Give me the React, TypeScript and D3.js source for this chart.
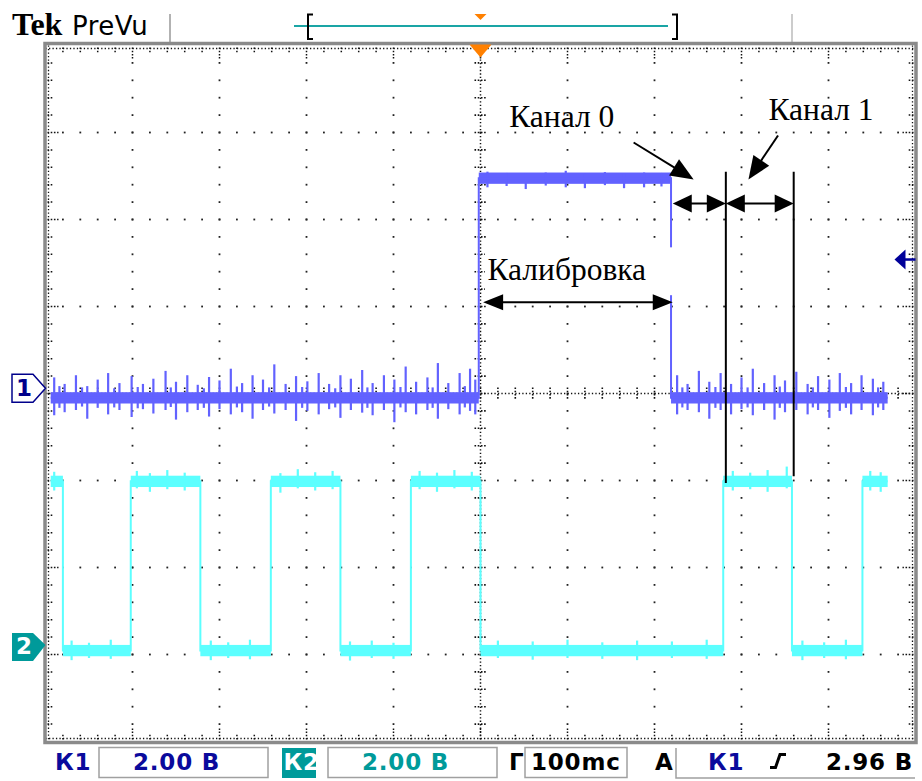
import React from 'react';
import * as d3 from 'd3';

const W = 922;
const H = 781;

// ---- scope settings ----
const timeDomain = [-500, 500]; // ms (100 ms/div, 10 div)
const divDomain = [-4, 4]; // 8 vertical divisions
const voltsPerDiv = 2;
const minorPerDiv = 5;

// ---- channel data ----
const ch1Offset = 0.06; // div (ground marker position)
const ch2Offset = -2.89;
const ch1Levels = [-0.22, 4.83]; // V: low, high
const ch2Levels = [-0.13, 3.76];
const traceStart = -494;
const traceEnd = 468;
const ch1StartState = 0;
const ch1Edges = [-2, 219];
const ch2StartState = 1;
const ch2Edges = [-480, -402, -322, -241, -161, -80, 0, 279, 358, 439];
const triggerLevel = 2.96; // V on channel 1

// noise spikes: [t ms, top V, bottom V]
const ch1Spikes: number[][] = [
  [-490, 0.25, -0.62], [-484, 0.05, -0.45], [-478, 0.1, -0.55], [-465, 0.3, -0.5], [-458, 0.02, -0.42], [-452, 0.05, -0.7],
  [-440, 0.2, -0.45], [-428, 0.35, -0.6], [-421, 0.0, -0.44], [-415, 0.12, -0.5], [-401, 0.28, -0.66], [-394, 0.03, -0.46],
  [-388, 0.1, -0.48], [-376, 0.22, -0.58], [-362, 0.4, -0.5], [-356, 0.02, -0.43], [-350, 0.15, -0.72], [-337, 0.3, -0.55],
  [-325, 0.08, -0.5], [-318, 0.0, -0.45], [-312, 0.26, -0.65], [-300, 0.18, -0.48], [-287, 0.45, -0.6], [-280, 0.04, -0.44],
  [-274, 0.12, -0.55], [-262, 0.3, -0.7], [-250, 0.2, -0.5], [-243, 0.02, -0.42], [-237, 0.55, -0.58], [-224, 0.1, -0.5],
  [-212, 0.28, -0.75], [-205, 0.03, -0.45], [-199, 0.16, -0.52], [-186, 0.35, -0.6], [-174, 0.1, -0.48], [-167, 0.0, -0.44],
  [-161, 0.3, -0.68], [-149, 0.22, -0.5], [-136, 0.42, -0.56], [-130, 0.02, -0.45], [-124, 0.12, -0.62], [-111, 0.3, -0.5],
  [-99, 0.2, -0.78], [-92, 0.03, -0.44], [-86, 0.5, -0.55], [-74, 0.15, -0.6], [-61, 0.25, -0.5], [-55, 0.02, -0.45],
  [-49, 0.58, -0.7], [-37, 0.12, -0.48], [-24, 0.35, -0.6], [-18, 0.05, -0.44], [-12, 0.45, -0.52], [-6, 0.2, -0.6],
  [226, 0.3, -0.6], [232, 0.02, -0.44], [238, 0.1, -0.5], [251, 0.4, -0.55], [263, 0.15, -0.7], [270, 0.03, -0.45],
  [276, 0.35, -0.5], [288, 0.1, -0.6], [300, 0.25, -0.48], [307, 0.02, -0.44], [313, 0.45, -0.62], [326, 0.12, -0.5],
  [338, 0.3, -0.72], [344, 0.04, -0.45], [350, 0.18, -0.55], [363, 0.38, -0.5], [376, 0.1, -0.6], [382, 0.02, -0.44],
  [388, 0.28, -0.5], [401, 0.2, -0.68], [413, 0.35, -0.52], [420, 0.03, -0.45], [426, 0.12, -0.6], [438, 0.3, -0.5],
  [451, 0.22, -0.62], [457, 0.02, -0.44], [463, 0.15, -0.5],
  [8, 4.98, 4.62], [30, 4.95, 4.65], [52, 4.93, 4.58], [75, 4.96, 4.66], [98, 5.0, 4.62],
  [120, 4.94, 4.6], [143, 4.97, 4.67], [165, 4.93, 4.6], [188, 4.96, 4.62], [208, 4.95, 4.64],
];
const ch2Spikes: number[][] = [
  [-490, 3.98, 3.55], [-395, 4.0, 3.6], [-380, 3.95, 3.52], [-360, 4.02, 3.58], [-340, 3.96, 3.55],
  [-230, 3.95, 3.5], [-210, 4.04, 3.6], [-190, 3.97, 3.55], [-170, 4.0, 3.58],
  [-70, 4.0, 3.58], [-50, 3.96, 3.52], [-30, 4.02, 3.6], [-10, 3.98, 3.55],
  [290, 4.0, 3.55], [310, 3.96, 3.58], [330, 4.02, 3.52], [352, 4.1, 3.6], [448, 4.0, 3.55], [460, 3.97, 3.52],
  [-470, 0.1, -0.35], [-450, 0.05, -0.3], [-425, 0.12, -0.32], [-310, 0.1, -0.35], [-290, 0.06, -0.3], [-265, 0.12, -0.33],
  [-150, 0.08, -0.36], [-125, 0.1, -0.3], [-100, 0.05, -0.32], [20, 0.1, -0.3], [60, 0.08, -0.34], [100, 0.12, -0.3],
  [140, 0.06, -0.32], [180, 0.1, -0.35], [220, 0.08, -0.3], [260, 0.12, -0.32], [370, 0.1, -0.35], [395, 0.06, -0.3],
  [420, 0.12, -0.33],
];
const noiseBand = 0.13; // V half-width of dense noise

// ---- annotations (t in ms, y in div) ----
const calibArrow = { t0: 3, t1: 221, div: 1.05 };
const calibMask = { t0: 5, t1: 223, div0: 1.13, div1: 1.68 };
const labels = [
  { text: 'Калибровка', t: 8, div: 1.3 },
  { text: 'Канал 0', t: 33, div: 3.06 },
  { text: 'Канал 1', t: 331, div: 3.14 },
];
const pointers = [
  { from: [176, 2.885], to: [245, 2.46] },
  { from: [342, 2.966], to: [308, 2.46] },
];
const spanDiv = 2.184;
const spanArrows = [[221, 282], [282, 360]];
const cursorLines = [[282, 2.55, -1.03], [360, 2.55, -0.95]];

// ---- status bar ----
const statusCh1 = ['К1', '2.00 В'];
const statusCh2 = ['К2', '2.00 В'];
const statusTime = ['Г', '100mc'];
const statusTrig = ['A', 'К1', '2.96 В'];

const BLUE = '#6262ff';
const CYAN = '#5cffff';
const TEAL = '#009a9a';
const DKBLUE = '#0a0a9c';

function segments(startState: number, edges: number[]) {
  const out: { t0: number; t1: number; s: number }[] = [];
  let s = startState;
  let t0 = traceStart;
  for (const e of edges) {
    out.push({ t0, t1: e, s });
    t0 = e;
    s = 1 - s;
  }
  out.push({ t0, t1: traceEnd, s });
  return out;
}

function arrowHead(tip: number[], from: number[], len = 20, hw = 8) {
  const dx = tip[0] - from[0];
  const dy = tip[1] - from[1];
  const L = Math.hypot(dx, dy);
  const ux = dx / L;
  const uy = dy / L;
  const bx = tip[0] - ux * len;
  const by = tip[1] - uy * len;
  return `M${tip[0]},${tip[1]}L${bx - uy * hw},${by + ux * hw}L${bx + uy * hw},${by - ux * hw}Z`;
}

export default function App() {
  const x = d3.scaleLinear().domain(timeDomain).range([45.5, 915.5]);
  const y = d3.scaleLinear().domain(divDomain).range([741.5, 45.5]);
  const y1 = (v: number) => y(ch1Offset + v / voltsPerDiv);
  const y2 = (v: number) => y(ch2Offset + v / voltsPerDiv);
  const left = x(timeDomain[0]);
  const right = x(timeDomain[1]);
  const top = y(divDomain[1]);
  const bottom = y(divDomain[0]);
  const cx = x(0);
  const cy = y(0);
  const divW = (right - left) / 10;
  const divH = (bottom - top) / 8;
  const nX = 10 * minorPerDiv;
  const nY = 8 * minorPerDiv;

  const line = d3.line<number[]>().x((d) => d[0]).y((d) => d[1]);

  const tracePath = (startState: number, edges: number[], levels: number[], yy: (v: number) => number) => {
    const segs = segments(startState, edges);
    const pts: number[][] = [];
    segs.forEach((sg) => {
      pts.push([x(sg.t0), yy(levels[sg.s])]);
      pts.push([x(sg.t1), yy(levels[sg.s])]);
    });
    return { d: line(pts) as string, segs };
  };
  const tr1 = tracePath(ch1StartState, ch1Edges, ch1Levels, y1);
  const tr2 = tracePath(ch2StartState, ch2Edges, ch2Levels, y2);

  // grid
  const gridDots: JSX.Element[] = [];
  for (let i = 1; i < 10; i++) {
    if (i === 5) continue;
    const gx = left + i * divW;
    for (let j = 1; j < nY; j++) {
      gridDots.push(<rect key={`v${i}-${j}`} x={gx - 0.9} y={top + (j * divH) / minorPerDiv - 0.9} width={1.8} height={1.8} fill="#222" />);
    }
  }
  for (let k = 1; k < 8; k++) {
    if (k === 4) continue;
    const gy = top + k * divH;
    for (let j = 1; j < nX; j++) {
      gridDots.push(<rect key={`h${k}-${j}`} x={left + (j * divW) / minorPerDiv - 0.9} y={gy - 0.9} width={1.8} height={1.8} fill="#222" />);
    }
  }
  const fine = `1.3 ${(divW / 25 - 1.3).toFixed(2)}`;
  const fineV = `1.3 ${(divH / 25 - 1.3).toFixed(2)}`;
  const axisTicks: JSX.Element[] = [];
  for (let j = 1; j < nX; j++) {
    const tx = left + (j * divW) / minorPerDiv;
    axisTicks.push(<line key={`ax${j}`} x1={tx} x2={tx} y1={cy - 6} y2={cy + 6} stroke="#111" strokeWidth={1.6} strokeDasharray="1.6 1.6" />);
    const major = j % minorPerDiv === 0;
    const L = major ? 11 : 6;
    axisTicks.push(<line key={`tt${j}`} x1={tx} x2={tx} y1={top + 2} y2={top + 2 + L} stroke="#111" strokeWidth={1.5} strokeDasharray="1.6 1.6" />);
    axisTicks.push(<line key={`bt${j}`} x1={tx} x2={tx} y1={bottom - 2} y2={bottom - 2 - L} stroke="#111" strokeWidth={1.5} strokeDasharray="1.6 1.6" />);
  }
  for (let j = 1; j < nY; j++) {
    const ty = top + (j * divH) / minorPerDiv;
    axisTicks.push(<line key={`ay${j}`} x1={cx - 6} x2={cx + 6} y1={ty} y2={ty} stroke="#111" strokeWidth={1.6} strokeDasharray="1.6 1.6" />);
    const major = j % minorPerDiv === 0;
    const L = major ? 11 : 6;
    axisTicks.push(<line key={`lt${j}`} x1={left + 2} x2={left + 2 + L} y1={ty} y2={ty} stroke="#111" strokeWidth={1.5} strokeDasharray="1.6 1.6" />);
    axisTicks.push(<line key={`rt${j}`} x1={right - 2} x2={right - 2 - L} y1={ty} y2={ty} stroke="#111" strokeWidth={1.5} strokeDasharray="1.6 1.6" />);
  }

  const spikeEls = (sp: number[][], yy: (v: number) => number, color: string, key: string) =>
    sp.map((s, i) => (
      <line key={`${key}${i}`} x1={x(s[0])} x2={x(s[0])} y1={yy(s[1])} y2={yy(s[2])} stroke={color} strokeWidth={2.2} />
    ));
  const bandEls = (segs: { t0: number; t1: number; s: number }[], levels: number[], yy: (v: number) => number, color: string, key: string) =>
    segs.map((sg, i) => (
      <rect key={`${key}${i}`} x={x(sg.t0)} y={yy(levels[sg.s] + noiseBand)} width={x(sg.t1) - x(sg.t0)} height={yy(levels[sg.s] - noiseBand) - yy(levels[sg.s] + noiseBand)} fill={color} />
    ));

  const g1 = y1(0);
  const g2 = y2(0);
  const trigY = y1(triggerLevel);

  const statusFont = { fontFamily: 'DejaVu Sans, Verdana, sans-serif', fontWeight: 700, fontSize: 23, letterSpacing: 0.8 } as const;
  const serif = { fontFamily: 'Liberation Serif, Times New Roman, serif', fontSize: 31.5 } as const;

  const sy = spanDiv;
  return (
    <svg width={W} height={H} viewBox={`0 0 ${W} ${H}`} style={{ position: 'absolute', left: 0, top: 0, display: 'block', background: '#fff' }}>
      <rect x={0} y={0} width={W} height={H} fill="#fff" />
      {/* header */}
      <text x={12} y={35} style={{ fontFamily: 'Liberation Serif, serif', fontWeight: 700, fontSize: 32 }} fill="#000">Tek</text>
      <text x={72} y={35} style={{ fontFamily: 'DejaVu Sans, sans-serif', fontSize: 26, letterSpacing: 0.5 }} fill="#000">PreVu</text>
      <line x1={170} x2={170} y1={14} y2={42} stroke="#999" strokeWidth={1.5} />
      <line x1={792} x2={792} y1={14} y2={42} stroke="#bbb" strokeWidth={1.5} />
      <line x1={294} x2={668} y1={26} y2={26} stroke="#1aa5a5" strokeWidth={2} />
      <path d="M313,14.5 L308,14.5 L308,39 L313,39" fill="none" stroke="#000" strokeWidth={2} />
      <path d="M672,14.5 L677,14.5 L677,39 L672,39" fill="none" stroke="#000" strokeWidth={2} />
      <path d={`M${cx - 6},14 L${cx + 6},14 L${cx},20 Z`} fill="#ff8000" />

      {/* graticule */}
      <g>{gridDots}</g>
      <line x1={left} x2={right} y1={cy} y2={cy} stroke="#111" strokeWidth={1.5} strokeDasharray={fine} />
      <line x1={cx} x2={cx} y1={top} y2={bottom} stroke="#111" strokeWidth={1.5} strokeDasharray={fineV} />
      <line x1={left} x2={right} y1={top + 3} y2={top + 3} stroke="#111" strokeWidth={1.3} strokeDasharray={fine} />
      <line x1={left} x2={right} y1={bottom - 3} y2={bottom - 3} stroke="#111" strokeWidth={1.3} strokeDasharray={fine} />
      <line x1={left + 3} x2={left + 3} y1={top} y2={bottom} stroke="#111" strokeWidth={1.3} strokeDasharray={fineV} />
      <line x1={right - 3} x2={right - 3} y1={top} y2={bottom} stroke="#111" strokeWidth={1.3} strokeDasharray={fineV} />
      <g>{axisTicks}</g>

      {/* channel 2 */}
      <g>{bandEls(tr2.segs, ch2Levels, y2, CYAN, 'b2')}</g>
      <g>{spikeEls(ch2Spikes, y2, CYAN, 's2')}</g>
      <path d={tr2.d} fill="none" stroke={CYAN} strokeWidth={2} />
      {/* channel 1 */}
      <g>{bandEls(tr1.segs, ch1Levels, y1, BLUE, 'b1')}</g>
      <g>{spikeEls(ch1Spikes, y1, BLUE, 's1')}</g>
      <path d={tr1.d} fill="none" stroke={BLUE} strokeWidth={2} />

      {/* annotations */}
      <rect x={x(calibMask.t0)} y={y(calibMask.div1)} width={x(calibMask.t1) - x(calibMask.t0)} height={y(calibMask.div0) - y(calibMask.div1)} fill="#fff" />
      {labels.map((l, i) => (
        <text key={`lb${i}`} x={x(l.t)} y={y(l.div)} style={serif} fill="#000">{l.text}</text>
      ))}
      {(() => {
        const a = [x(calibArrow.t0), y(calibArrow.div)];
        const b = [x(calibArrow.t1), y(calibArrow.div)];
        return (
          <g>
            <line x1={a[0] + 10} x2={b[0] - 10} y1={a[1]} y2={b[1]} stroke="#000" strokeWidth={2} />
            <path d={arrowHead(a, b, 20, 8)} fill="#000" />
            <path d={arrowHead(b, a, 20, 8)} fill="#000" />
          </g>
        );
      })()}
      {pointers.map((p, i) => {
        const f = [x(p.from[0]), y(p.from[1])];
        const t = [x(p.to[0]), y(p.to[1])];
        const dx = t[0] - f[0];
        const dy = t[1] - f[1];
        const L = Math.hypot(dx, dy);
        return (
          <g key={`pt${i}`}>
            <line x1={f[0]} y1={f[1]} x2={t[0] - (dx / L) * 12} y2={t[1] - (dy / L) * 12} stroke="#000" strokeWidth={2} />
            <path d={arrowHead(t, f, 23, 9.5)} fill="#000" />
          </g>
        );
      })}
      {spanArrows.map((s, i) => {
        const a = [x(s[0]), y(sy)];
        const b = [x(s[1]), y(sy)];
        return (
          <g key={`sa${i}`}>
            <line x1={a[0] + 8} x2={b[0] - 8} y1={a[1]} y2={b[1]} stroke="#000" strokeWidth={2} />
            <path d={arrowHead(a, b, 19, 9)} fill="#000" />
            <path d={arrowHead(b, a, 19, 9)} fill="#000" />
          </g>
        );
      })}
      {cursorLines.map((c, i) => (
        <line key={`cl${i}`} x1={x(c[0])} x2={x(c[0])} y1={y(c[1])} y2={y(c[2])} stroke="#000" strokeWidth={2} />
      ))}

      {/* frame */}
      <rect x={left - 0.5} y={top - 2} width={right - left + 1} height={bottom - top + 3} fill="none" stroke="#8a8a8a" strokeWidth={3.5} />
      <path d={`M${cx - 11},${top - 1} L${cx + 11},${top - 1} L${cx},${top + 12} Z`} fill="#ff8000" />
      {/* trigger level arrow */}
      <path d={`M${right - 21},${trigY} L${right - 10},${trigY - 10} L${right - 10},${trigY + 10} Z`} fill="#00009a" />
      <line x1={right - 11} x2={right} y1={trigY} y2={trigY} stroke="#00009a" strokeWidth={2.5} />
      {/* channel markers */}
      <path d={`M12,${g1 - 14} L33,${g1 - 14} L${left},${g1} L33,${g1 + 14} L12,${g1 + 14} Z`} fill="#fff" stroke="#00008b" strokeWidth={1.5} />
      <text x={24} y={g1 + 8} textAnchor="middle" style={{ fontFamily: 'DejaVu Sans, sans-serif', fontWeight: 700, fontSize: 23 }} fill="#00008b">1</text>
      <path d={`M12,${g2 - 12} L33,${g2 - 12} L${left},${g2} L33,${g2 + 16} L12,${g2 + 16} Z`} fill={TEAL} />
      <text x={24} y={g2 + 9} textAnchor="middle" style={{ fontFamily: 'DejaVu Sans, sans-serif', fontWeight: 700, fontSize: 23 }} fill="#fff">2</text>

      {/* status bar */}
      <text x={55} y={769.5} style={statusFont} fill={DKBLUE}>{statusCh1[0]}</text>
      <rect x={99} y={747.5} width={169} height={30} fill="none" stroke="#a0a0a0" strokeWidth={1.5} />
      <text x={133} y={769.5} style={statusFont} fill={DKBLUE}>{statusCh1[1]}</text>
      <rect x={282} y={748} width={34} height={30} fill={TEAL} />
      <text x={283.5} y={769.5} style={statusFont} fill="#fff">{statusCh2[0]}</text>
      <rect x={328} y={747.5} width={169} height={30} fill="none" stroke="#a0a0a0" strokeWidth={1.5} />
      <text x={362} y={769.5} style={statusFont} fill={TEAL}>{statusCh2[1]}</text>
      <text x={509} y={769.5} style={statusFont} fill="#000">{statusTime[0]}</text>
      <rect x={525} y={747.5} width={102} height={30} fill="none" stroke="#a0a0a0" strokeWidth={1.5} />
      <text x={531} y={769.5} style={statusFont} fill="#000">{statusTime[1]}</text>
      <text x={655} y={769.5} style={statusFont} fill="#000">{statusTrig[0]}</text>
      <path d="M676,748 L676,778 L915,778" fill="none" stroke="#a0a0a0" strokeWidth={1.5} />
      <text x={708} y={769.5} style={statusFont} fill={DKBLUE}>{statusTrig[1]}</text>
      <path d="M770,767.5 L775.5,767.5 L780,754.5 L786,754.5" fill="none" stroke="#000" strokeWidth={3} />
      <text x={913} y={769.5} textAnchor="end" style={statusFont} fill="#000">{statusTrig[2]}</text>
    </svg>
  );
}
